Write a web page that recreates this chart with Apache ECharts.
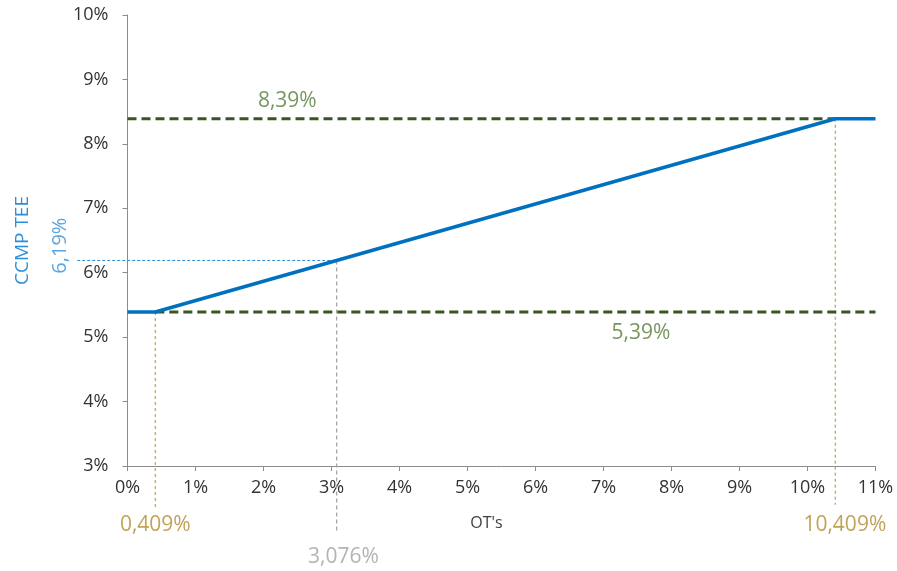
<!DOCTYPE html>
<html><head><meta charset="utf-8">
<script src="https://cdn.jsdelivr.net/npm/echarts@6/dist/echarts.min.js"></script>
<style>html,body{margin:0;padding:0;background:#fff}#c{width:897px;height:571px}</style>
</head><body><div id="c"></div>
<script>
// ---- data ----
const curveOT   = [0, 0.409, 10.409, 11];
const curveRate = [5.39, 5.39, 8.39, 8.39];
const floorRate = 5.39;
const capRate   = 8.39;
const floorOT   = 0.409;
const capOT     = 10.409;
const sampleOT  = 3.076;
const sampleRate = 6.19;
const xTickRange = [0, 11];
const yTickRange = [3, 10];
const xName = "OT's";
const yName = "CCMP TEE";
const fmtPct = v => String(v).replace('.', ',') + '%';

// ---- layout for annotations (not data) ----
const F = '"Open Sans", "Noto Sans", sans-serif';
const gold = '#B08C2C', tan = '#C9A468', green = '#375623', greenTxt = '#557A35', blue = '#0070C0', lblue = '#2E8FD8', grey = '#A0A0A0';

const chart = echarts.init(document.getElementById('c'));
const seg = (name, pts, color, width, type, z) => ({
  name, type: 'custom', data: [pts[0].concat(pts[1])], clip: false, silent: true, z: z || 2, animation: false,
  encode: { x: [0, 2], y: [1, 3] },
  renderItem: (params, api) => {
    const a = api.coord([api.value(0), api.value(1)]);
    const b = api.coord([api.value(2), api.value(3)]);
    return { type: 'line', shape: { x1: a[0], y1: a[1], x2: b[0], y2: b[1] },
             style: { stroke: color, lineWidth: width, lineDash: type === 'solid' ? null : type } };
  }
});
const lbl = (pt, text, color, size, opts) => ({
  type: 'scatter', data: [pt], symbolSize: 0, clip: false, silent: true, animation: false, z: 10,
  label: Object.assign({ show: true, position: 'inside', formatter: text, color, fontSize: size, fontFamily: F }, opts || {})
});

chart.setOption({
  animation: false,
  grid: { left: 127.5, right: 21.5, top: 15, bottom: 105, containLabel: false, outerBoundsMode: 'none' },
  xAxis: {
    type: 'value', min: xTickRange[0], max: xTickRange[1], interval: 1,
    name: xName, nameLocation: 'middle', nameGap: 49,
    nameTextStyle: { color: '#404040', fontSize: 16, fontFamily: F, padding: [0, 30, 0, 0] },
    axisLine: { show: true, lineStyle: { color: '#8C8C8C', width: 1 } },
    axisTick: { show: true, length: 5, lineStyle: { color: '#8C8C8C' } },
    splitLine: { show: false },
    axisLabel: { formatter: v => v + '%', color: '#333', fontSize: 18, fontFamily: F, margin: 13 }
  },
  yAxis: {
    type: 'value', min: yTickRange[0], max: yTickRange[1], interval: 1,
    name: yName, nameLocation: 'middle', nameGap: 83, nameRotate: 90,
    nameTextStyle: { color: lblue, fontSize: 19, fontFamily: F, padding: [0, 0, 12, 0] },
    axisLine: { show: true, lineStyle: { color: '#8C8C8C', width: 1 } },
    axisTick: { show: true, length: 5, lineStyle: { color: '#8C8C8C' } },
    splitLine: { show: false },
    axisLabel: { formatter: v => v + '%', color: '#333', fontSize: 18, fontFamily: F, margin: 19 }
  },
  series: [
    seg('floorDrop', [[floorOT, floorRate], [floorOT, 2.32]], tan, 1.3, [3, 3], 1),
    seg('capDrop', [[capOT, capRate], [capOT, 2.4]], tan, 1.3, [3, 3], 1),
    seg('sampleDrop', [[sampleOT, sampleRate], [sampleOT, 2.0]], grey, 1.2, [4, 3], 1),
    seg('sampleLevel', [[-0.74, sampleRate], [sampleOT, sampleRate]], lblue, 1, [3, 2], 1),
    seg('cap', [[0, capRate], [capOT, capRate]], green, 3, [9, 5], 2),
    seg('floor', [[floorOT, floorRate], [11, floorRate]], green, 3, [9, 5], 2),
    { name: 'curve', type: 'line', data: curveOT.map((x, i) => [x, curveRate[i]]), symbol: 'none', z: 3,
      clip: false, silent: true, lineStyle: { color: blue, width: 3.5 } },
    lbl([floorOT, 2.08], fmtPct(floorOT), gold, 21),
    lbl([capOT + 0.14, 2.08], fmtPct(capOT), gold, 21),
    lbl([sampleOT + 0.1, 1.58], fmtPct(sampleOT), grey, 21),
    lbl([2.35, 8.67], fmtPct(capRate), greenTxt, 21),
    lbl([7.55, 5.07], fmtPct(floorRate), greenTxt, 21),
    lbl([-0.99, 6.42], fmtPct(sampleRate), lblue, 20, { rotate: 90 })
  ]
});
</script></body></html>
